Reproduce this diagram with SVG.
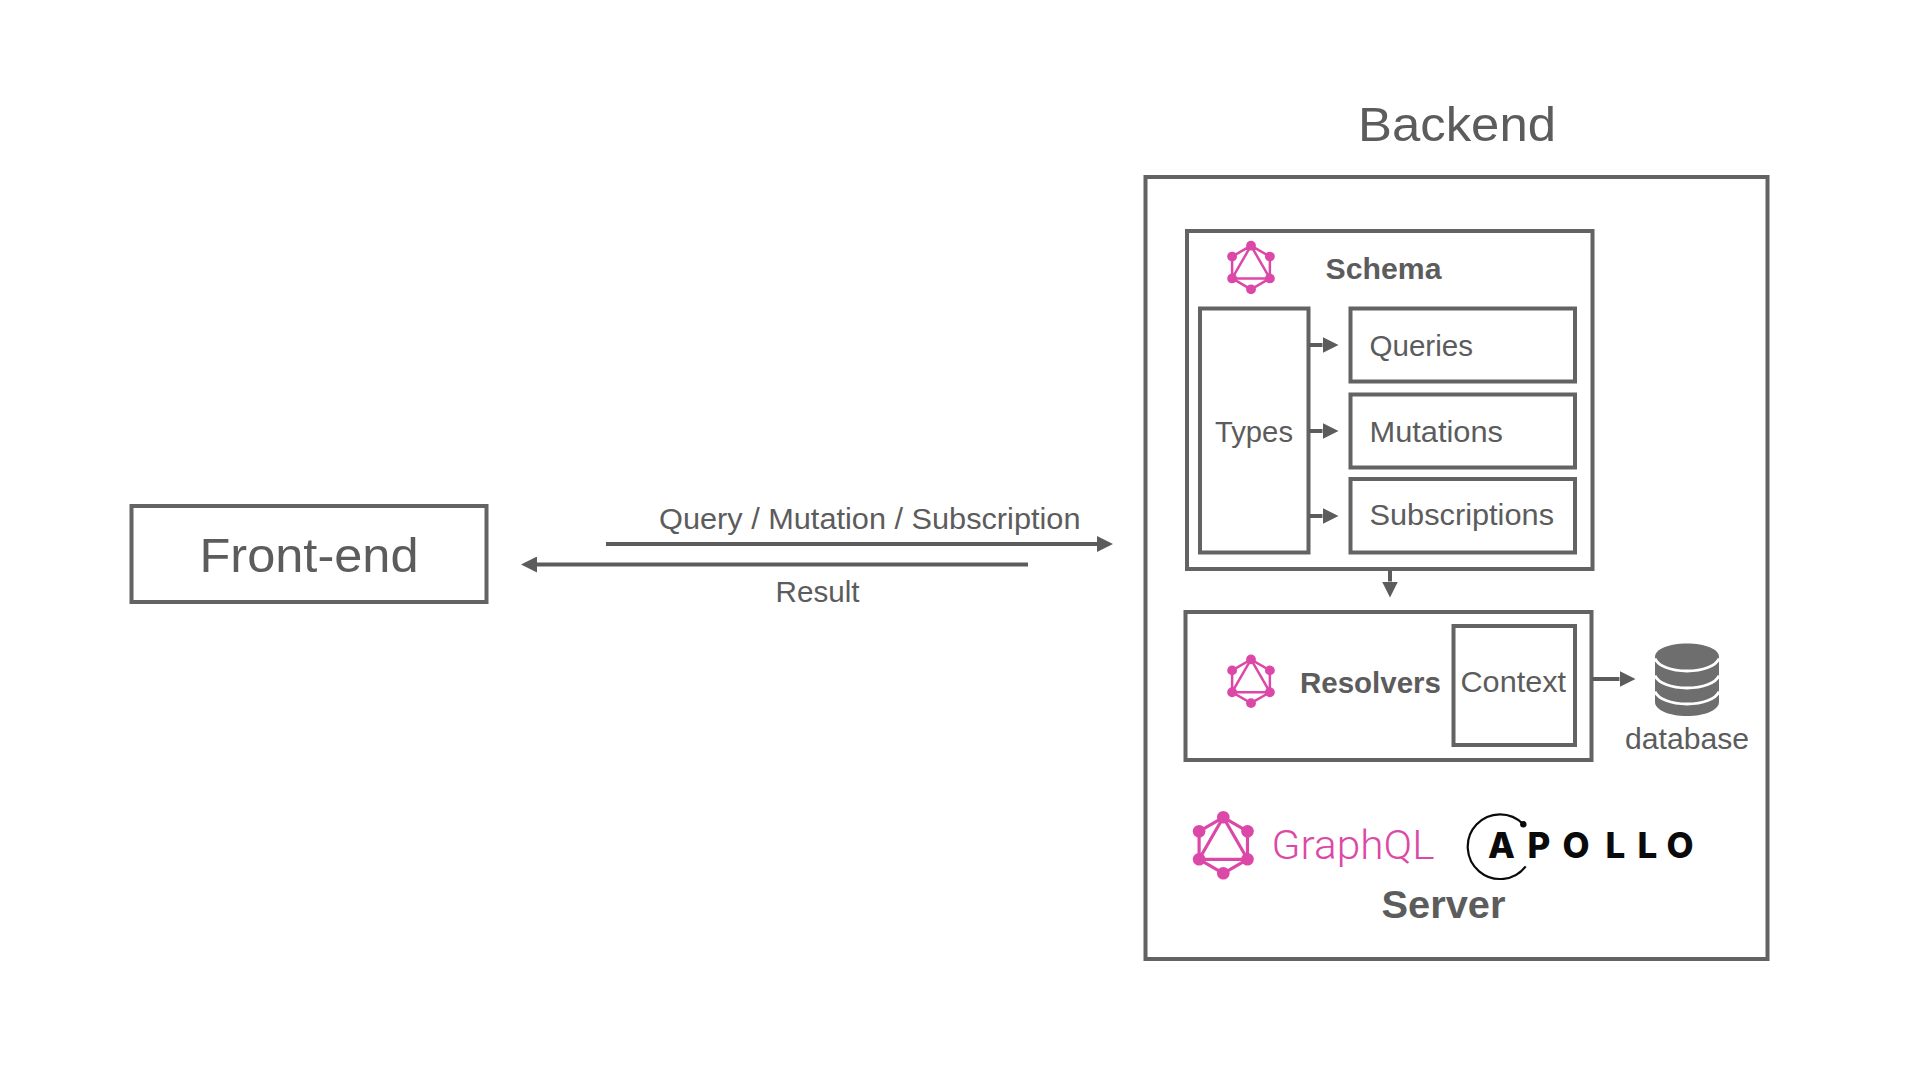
<svg xmlns="http://www.w3.org/2000/svg" xmlns:xlink="http://www.w3.org/1999/xlink" width="1920" height="1080" viewBox="0 0 1920 1080">
<style>
.box{fill:none;stroke:#636363;stroke-width:4}
.cn{fill:none;stroke:#5c5c5c;stroke-width:4}
text{font-family:"Liberation Sans",Arial,sans-serif;fill:#5c5c5c;font-size:30px}
.b{font-weight:700}
.gq{font-family:Roboto,"Liberation Sans",sans-serif;font-weight:300;font-size:41px;fill:#dc48a8}
.ap{font-family:Inter,"Liberation Sans",sans-serif;font-weight:800;font-size:35px;fill:#0a0a0a}
</style>
<defs>
<marker id="ah" viewBox="0 0 16 16" refX="0" refY="8" markerWidth="16" markerHeight="16" markerUnits="userSpaceOnUse" orient="auto"><path d="M0 0L16 8L0 16Z" fill="#5c5c5c"/></marker>
<g id="gql">
<path d="M0-28L24.200-14V14L0 28L-24.200 14V-14ZM0-28L24.200 14H-24.200Z" fill="none" stroke="#dc48a8" stroke-width="3.200" stroke-linejoin="round"/>
<g fill="#dc48a8"><circle cx="0" cy="-28" r="6.300"/><circle cx="24.200" cy="-14" r="6.300"/><circle cx="24.200" cy="14" r="6.300"/><circle cx="0" cy="28" r="6.300"/><circle cx="-24.200" cy="14" r="6.300"/><circle cx="-24.200" cy="-14" r="6.300"/></g>
</g>
</defs>
<rect width="1920" height="1080" fill="#fff"/>
<g id="backend">
<rect class="box" x="1145.500" y="177" width="622" height="782"/>
<text x="1358" y="141" style="font-size:48px" textLength="198" lengthAdjust="spacingAndGlyphs">Backend</text>
</g>
<g id="frontend">
<rect class="box" x="131.500" y="506" width="355" height="96"/>
<text x="199.500" y="572" style="font-size:48px" textLength="219" lengthAdjust="spacingAndGlyphs">Front-end</text>
</g>
<g id="schema">
<rect class="box" x="1187" y="231" width="405.500" height="338"/>
<use xlink:href="#gql" href="#gql" transform="translate(1251 267.500) scale(.78)"/>
<text class="b" x="1325.500" y="278.500" textLength="116" lengthAdjust="spacingAndGlyphs">Schema</text>
</g>
<g id="types">
<rect class="box" x="1200" y="308.500" width="108.500" height="244"/>
<text x="1215" y="442" textLength="78" lengthAdjust="spacingAndGlyphs">Types</text>
</g>
<g id="queries">
<rect class="box" x="1350.500" y="308.500" width="224.500" height="73"/>
<text x="1369.500" y="356" textLength="103.500" lengthAdjust="spacingAndGlyphs">Queries</text>
</g>
<g id="mutations">
<rect class="box" x="1350.500" y="394.500" width="224.500" height="73"/>
<text x="1369.500" y="442" textLength="133.500" lengthAdjust="spacingAndGlyphs">Mutations</text>
</g>
<g id="subscriptions">
<rect class="box" x="1350.500" y="479" width="224.500" height="73.500"/>
<text x="1369.500" y="524.500" textLength="184.500" lengthAdjust="spacingAndGlyphs">Subscriptions</text>
</g>
<g id="resolvers">
<rect class="box" x="1185.500" y="612" width="406" height="148"/>
<use xlink:href="#gql" href="#gql" transform="translate(1251 681.300) scale(.78)"/>
<text class="b" x="1300" y="692.500" textLength="141" lengthAdjust="spacingAndGlyphs">Resolvers</text>
</g>
<g id="context">
<rect class="box" x="1453.500" y="626" width="121.500" height="119"/>
<text x="1460.500" y="692" textLength="105.500" lengthAdjust="spacingAndGlyphs">Context</text>
</g>
<g id="database">
<path d="M1655 657C1655 649 1669 643.500 1687 643.500S1719 649 1719 657V702C1719 710 1705 716 1687 716S1655 710 1655 702Z" fill="#6e6e6e"/>
<path d="M1655 658.500C1658 666 1671 671 1687 671S1716 666 1719 658.500M1655 675.500C1658 683 1671 688 1687 688S1716 683 1719 675.500M1655 691.500C1658 699 1671 704 1687 704S1716 699 1719 691.500" fill="none" stroke="#fff" stroke-width="2.800"/>
<text x="1625" y="749" textLength="124" lengthAdjust="spacingAndGlyphs">database</text>
</g>
<g id="graphql">
<use xlink:href="#gql" href="#gql" transform="translate(1223.300 845.300)"/>
<text class="gq" x="1271.500" y="859" textLength="163" lengthAdjust="spacingAndGlyphs">GraphQL</text>
</g>
<g id="apollo">
<path d="M1523.300 824.300A32.300 32.300 0 1 0 1525.700 866.300" fill="none" stroke="#0a0a0a" stroke-width="2.200"/>
<circle cx="1523.300" cy="824.300" r="3.200" fill="#0a0a0a"/>
<text class="ap" x="1488 1527.500 1562.500 1605.500 1637.500 1666.500" y="857.500">APOLLO</text>
</g>
<g id="server"><text class="b" x="1381.500" y="918" style="font-size:38px" textLength="124" lengthAdjust="spacingAndGlyphs">Server</text></g>
<g id="connectors">
<path class="cn" d="M606 544H1097" marker-end="url(#ah)"/>
<path class="cn" d="M1028 564.500H537" marker-end="url(#ah)"/>
<path class="cn" d="M1309 345H1322.500" marker-end="url(#ah)"/>
<path class="cn" d="M1309 431H1322.500" marker-end="url(#ah)"/>
<path class="cn" d="M1309 516H1322.500" marker-end="url(#ah)"/>
<path class="cn" d="M1390 570V581.500" marker-end="url(#ah)"/>
<path class="cn" d="M1592 679H1619.500" marker-end="url(#ah)"/>
</g>
<g id="labels">
<text x="659" y="529" textLength="421.500" lengthAdjust="spacingAndGlyphs">Query / Mutation / Subscription</text>
<text x="775.500" y="601.500" textLength="84" lengthAdjust="spacingAndGlyphs">Result</text>
</g>
</svg>
